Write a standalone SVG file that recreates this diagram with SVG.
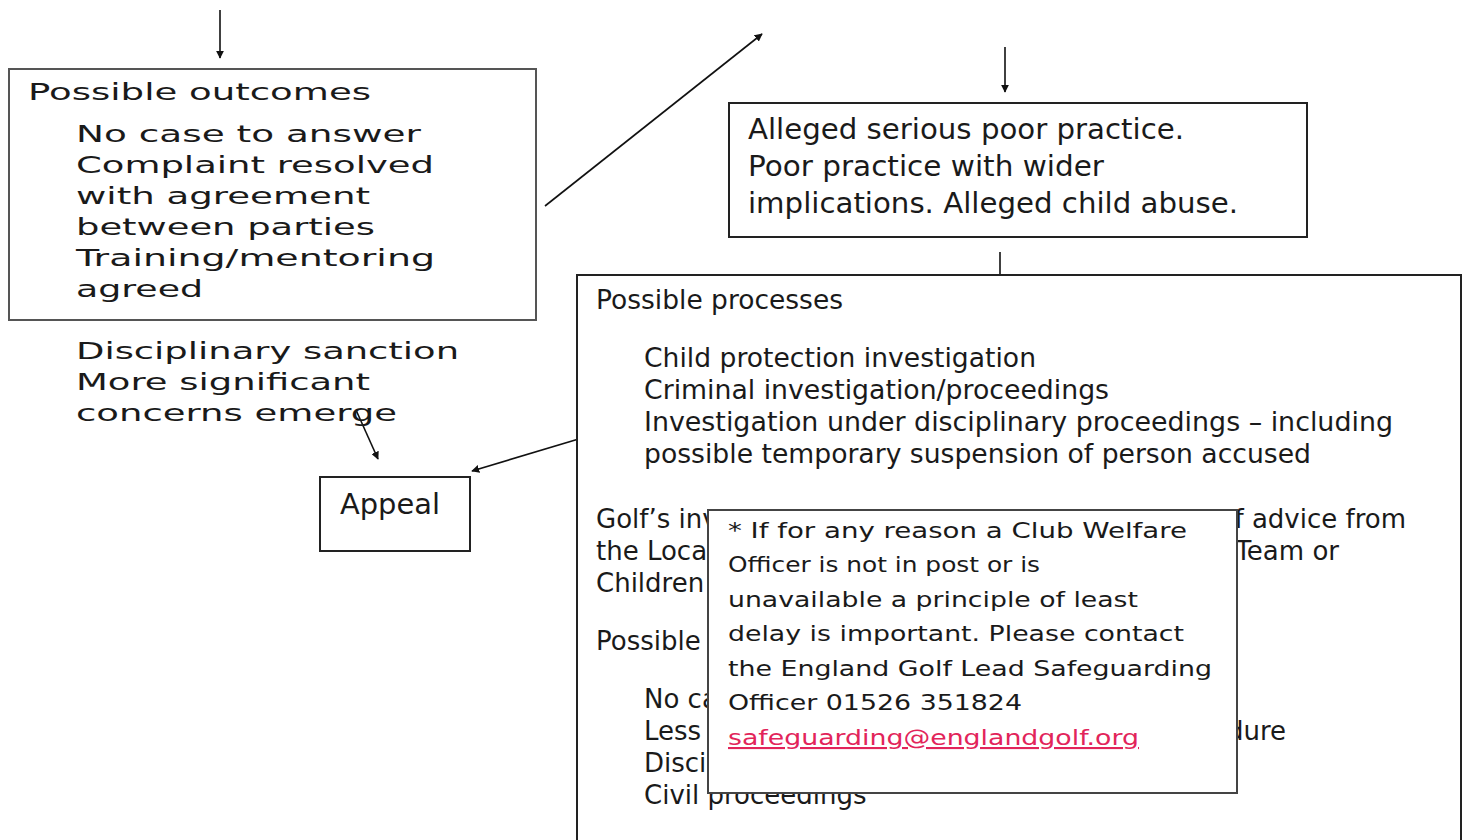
<svg xmlns="http://www.w3.org/2000/svg" width="1468" height="840" viewBox="0 0 1468 840">
<style>
.t{font-family:"DejaVu Sans",Verdana,sans-serif;fill:#1a1a1a}
.l{font-size:23px}
.r{font-size:26px}
.a{font-size:28px}
.p{font-size:21px}
.box{fill:#fff;stroke:#222;stroke-width:2}
.conn{stroke:#111;stroke-width:1.6;fill:none}
</style>
<defs>
<marker id="ah" viewBox="0 0 10 10" refX="9" refY="5" markerWidth="8" markerHeight="8" orient="auto" markerUnits="userSpaceOnUse">
<path d="M0,0 L10,5 L0,10 z" fill="#111"/>
</marker>
</defs>
<rect width="1468" height="840" fill="#fff"/>
<g id="connectors">
<line class="conn" x1="220" y1="10" x2="220" y2="58" marker-end="url(#ah)"/>
<line class="conn" x1="545" y1="206" x2="762" y2="34" marker-end="url(#ah)"/>
<line class="conn" x1="1005" y1="47" x2="1005" y2="92" marker-end="url(#ah)"/>
<line class="conn" x1="1000" y1="252" x2="1000" y2="275"/>
<line class="conn" x1="356" y1="410" x2="378" y2="459" marker-end="url(#ah)"/>
<line class="conn" x1="582" y1="438" x2="472" y2="471" marker-end="url(#ah)"/>
</g>
<g id="outcomes">
<rect class="box" x="9" y="69" width="527" height="251" style="stroke:#555"/>
<text class="t l" x="28" y="100" textLength="343" lengthAdjust="spacingAndGlyphs">Possible outcomes</text>
<text class="t l" x="76" y="142" textLength="345" lengthAdjust="spacingAndGlyphs">No case to answer</text>
<text class="t l" x="76" y="173" textLength="358" lengthAdjust="spacingAndGlyphs">Complaint resolved</text>
<text class="t l" x="76" y="204" textLength="294" lengthAdjust="spacingAndGlyphs">with agreement</text>
<text class="t l" x="76" y="235" textLength="299" lengthAdjust="spacingAndGlyphs">between parties</text>
<text class="t l" x="76" y="266" textLength="359" lengthAdjust="spacingAndGlyphs">Training/mentoring</text>
<text class="t l" x="76" y="297" textLength="127" lengthAdjust="spacingAndGlyphs">agreed</text>
</g>
<g id="more-outcomes">
<text class="t l" x="76" y="359" textLength="383" lengthAdjust="spacingAndGlyphs">Disciplinary sanction</text>
<text class="t l" x="76" y="390" textLength="294" lengthAdjust="spacingAndGlyphs">More significant</text>
<text class="t l" x="76" y="421" textLength="321" lengthAdjust="spacingAndGlyphs">concerns emerge</text>
</g>
<g id="appeal">
<rect class="box" x="320" y="477" width="150" height="74"/>
<text class="t" style="font-size:29px" x="340" y="514" textLength="100" lengthAdjust="spacingAndGlyphs">Appeal</text>
</g>
<g id="alleged">
<rect class="box" x="729" y="103" width="578" height="134"/>
<text class="t a" x="748" y="139" textLength="436" lengthAdjust="spacingAndGlyphs">Alleged serious poor practice.</text>
<text class="t a" x="748" y="176" textLength="356" lengthAdjust="spacingAndGlyphs">Poor practice with wider</text>
<text class="t a" x="748" y="213" textLength="490" lengthAdjust="spacingAndGlyphs">implications. Alleged child abuse.</text>
</g>
<g id="processes">
<rect class="box" x="577" y="275" width="884" height="580"/>
<text class="t r" x="596" y="309" textLength="247" lengthAdjust="spacingAndGlyphs">Possible processes</text>
<text class="t r" x="644" y="367" textLength="392" lengthAdjust="spacingAndGlyphs">Child protection investigation</text>
<text class="t r" x="644" y="399" textLength="465" lengthAdjust="spacingAndGlyphs">Criminal investigation/proceedings</text>
<text class="t r" x="644" y="431" textLength="749" lengthAdjust="spacingAndGlyphs">Investigation under disciplinary proceedings – including</text>
<text class="t r" x="644" y="463" textLength="667" lengthAdjust="spacingAndGlyphs">possible temporary suspension of person accused</text>
<text class="t r" x="596" y="528">Golf’s inv</text>
<text class="t r" x="1406" y="528" text-anchor="end">of advice from</text>
<text class="t r" x="596" y="560">the Local</text>
<text class="t r" x="1339" y="560" text-anchor="end">Team or</text>
<text class="t r" x="596" y="592">Children</text>
<text class="t r" x="596" y="650">Possible</text>
<text class="t r" x="644" y="708">No ca</text>
<text class="t r" x="644" y="740">Less</text>
<text class="t r" x="1286" y="740" text-anchor="end">edure</text>
<text class="t r" x="644" y="772">Disci</text>
<text class="t r" x="644" y="804">Civil proceedings</text>
</g>
<g id="note">
<rect x="708" y="510" width="529" height="283" fill="#fff" stroke="#444" stroke-width="2"/>
<text class="t p" x="728" y="538" textLength="459" lengthAdjust="spacingAndGlyphs">* If for any reason a Club Welfare</text>
<text class="t p" x="728" y="572" textLength="312" lengthAdjust="spacingAndGlyphs">Officer is not in post or is</text>
<text class="t p" x="728" y="607" textLength="410" lengthAdjust="spacingAndGlyphs">unavailable a principle of least</text>
<text class="t p" x="728" y="641" textLength="456" lengthAdjust="spacingAndGlyphs">delay is important. Please contact</text>
<text class="t p" x="728" y="676" textLength="484" lengthAdjust="spacingAndGlyphs">the England Golf Lead Safeguarding</text>
<text class="t p" x="728" y="710" textLength="294" lengthAdjust="spacingAndGlyphs">Officer 01526 351824</text>
<text class="t p" x="728" y="745" textLength="411" lengthAdjust="spacingAndGlyphs" style="fill:#e2245a;text-decoration:underline">safeguarding@englandgolf.org</text>
</g>
</svg>
